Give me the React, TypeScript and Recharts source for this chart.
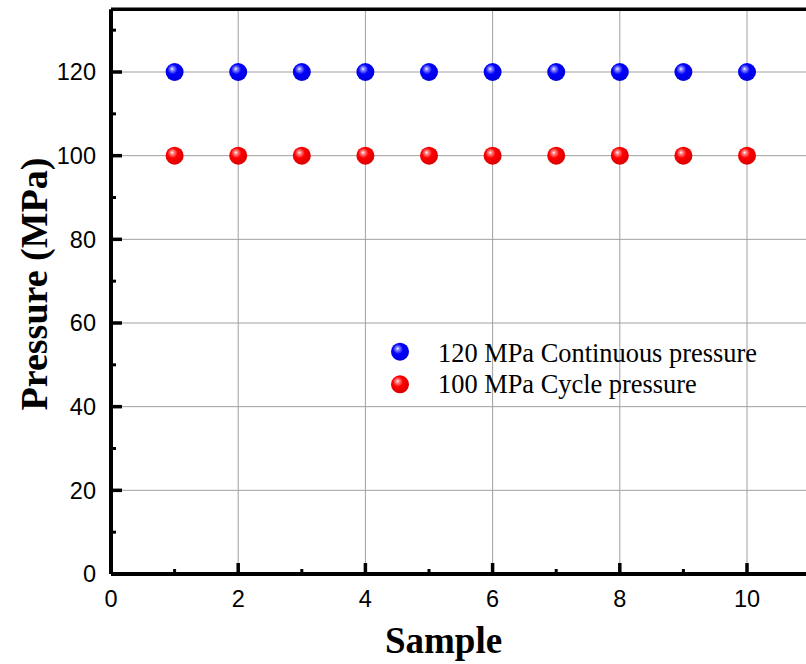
import React from 'react';
import { ScatterChart, Scatter, XAxis, YAxis, ReferenceLine, Legend } from 'recharts';

const samples = [1, 2, 3, 4, 5, 6, 7, 8, 9, 10];
const continuousPressure = [120, 120, 120, 120, 120, 120, 120, 120, 120, 120];
const cyclePressure = [100, 100, 100, 100, 100, 100, 100, 100, 100, 100];
const xMajorTicks = [0, 2, 4, 6, 8, 10];
const xMinorTicks = [1, 3, 5, 7, 9, 11];
const yMajorTicks = [0, 20, 40, 60, 80, 100, 120];
const yMinorTicks = [10, 30, 50, 70, 90, 110, 130];
const seriesNames = ['120 MPa Continuous pressure', '100 MPa Cycle pressure'];

const contData = samples.map((s, i) => ({ x: s, y: continuousPressure[i] }));
const cycData = samples.map((s, i) => ({ x: s, y: cyclePressure[i] }));

const X_MARGIN = 16;
const Y_MARGIN = 15;
const SANS = '"Liberation Sans", Arial, sans-serif';
const SERIF = '"Liberation Serif", "Times New Roman", serif';

const XTick = (props: any) => {
  const { x, y, payload } = props;
  const v = payload.value;
  const axisY = y - X_MARGIN;
  const major = xMajorTicks.includes(v);
  return (
    <g>
      <line x1={x} x2={x} y1={axisY} y2={axisY - (major ? 11 : 5)} stroke="#000" strokeWidth={major ? 3.5 : 3} />
      {major && (
        <text x={x} y={y} dy="0.72em" textAnchor="middle" fontFamily={SANS} fontSize={23.5} fill="#000">
          {v}
        </text>
      )}
    </g>
  );
};

const YTick = (props: any) => {
  const { x, y, payload } = props;
  const v = payload.value;
  const axisX = x + Y_MARGIN;
  const major = yMajorTicks.includes(v);
  return (
    <g>
      <line x1={axisX} x2={axisX + (major ? 11 : 5)} y1={y} y2={y} stroke="#000" strokeWidth={major ? 3.5 : 3} />
      {major && (
        <text x={x} y={y} dy="0.36em" textAnchor="end" fontFamily={SANS} fontSize={23.5} fill="#000">
          {v}
        </text>
      )}
    </g>
  );
};

const Ball = (color: string) => (props: any) => {
  const { cx, cy } = props;
  return <circle cx={cx} cy={cy} r={9} fill={`url(#ball-${color})`} />;
};

const LegendContent = () => (
  <svg width={400} height={70} style={{ display: 'block', overflow: 'visible' }}>
    <circle cx={15} cy={16.7} r={9} fill="url(#ball-blue)" />
    <text x={53} y={27} fontFamily={SERIF} fontSize={26.4} fill="#000">{seriesNames[0]}</text>
    <circle cx={15} cy={49.3} r={9} fill="url(#ball-red)" />
    <text x={53} y={58} fontFamily={SERIF} fontSize={26.4} fill="#000">{seriesNames[1]}</text>
  </svg>
);

const Grad = ({ id, light, main, dark }: any) => (
  <radialGradient id={id} cx="0.42" cy="0.4" r="0.62" fx="0.36" fy="0.32">
    <stop offset="0" stopColor="#ffffff" />
    <stop offset="0.12" stopColor={light} />
    <stop offset="0.45" stopColor={main} />
    <stop offset="1" stopColor={dark} />
  </radialGradient>
);

export default function App() {
  return (
    <div style={{ position: 'absolute', left: 0, top: 0, width: 806, height: 664, overflow: 'hidden', background: '#fff' }}>
      <svg width={1} height={1} style={{ position: 'absolute', left: 0, top: 0 }}>
        <defs>
          <Grad id="ball-blue" light="#9a9aff" main="#0000ff" dark="#0000d8" />
          <Grad id="ball-red" light="#ff9a9a" main="#ff0000" dark="#d80000" />
        </defs>
      </svg>
      <ScatterChart width={812} height={664} margin={{ top: 9.25, right: 1.4, left: 0, bottom: 0 }}>
        <XAxis
          type="number"
          dataKey="x"
          domain={[0, 11]}
          ticks={[...xMajorTicks, ...xMinorTicks].sort((a, b) => a - b)}
          interval={0}
          allowDataOverflow
          height={90}
          tickLine={false}
          tickSize={0}
          tickMargin={X_MARGIN}
          tick={<XTick />}
          axisLine={{ stroke: '#000', strokeWidth: 4 }}
          label={{
            content: () => (
              <text x={443.5} y={653} textAnchor="middle" fontFamily={SERIF} fontWeight="bold" fontSize={37} fill="#000">
                Sample
              </text>
            ),
          }}
        />
        <YAxis
          type="number"
          dataKey="y"
          domain={[0, 135]}
          ticks={[...yMajorTicks, ...yMinorTicks].sort((a, b) => a - b)}
          interval={0}
          allowDataOverflow
          width={111}
          tickLine={false}
          tickSize={0}
          tickMargin={Y_MARGIN}
          tick={<YTick />}
          axisLine={{ stroke: '#000', strokeWidth: 4 }}
          label={{
            content: () => (
              <text
                x={47}
                y={284}
                transform="rotate(-90, 47, 284)"
                textAnchor="middle"
                fontFamily={SERIF}
                fontWeight="bold"
                fontSize={38}
                fill="#000"
              >
                Pressure (MPa)
              </text>
            ),
          }}
        />
        {yMajorTicks.filter((v) => v > 0).map((v) => (
          <ReferenceLine key={'h' + v} y={v} stroke="#a0a0a0" strokeWidth={1} />
        ))}
        {xMajorTicks.filter((v) => v > 0).map((v) => (
          <ReferenceLine key={'v' + v} x={v} stroke="#a0a0a0" strokeWidth={1} />
        ))}
        <ReferenceLine y={135} stroke="#000" strokeWidth={3.5} />
        <Legend
          content={<LegendContent />}
          wrapperStyle={{ position: 'absolute', left: 385, top: 335, width: 0, height: 0, overflow: 'visible' }}
        />
        <Scatter name={seriesNames[0]} data={contData} shape={Ball('blue')} isAnimationActive={false} />
        <Scatter name={seriesNames[1]} data={cycData} shape={Ball('red')} isAnimationActive={false} />
      </ScatterChart>
    </div>
  );
}
